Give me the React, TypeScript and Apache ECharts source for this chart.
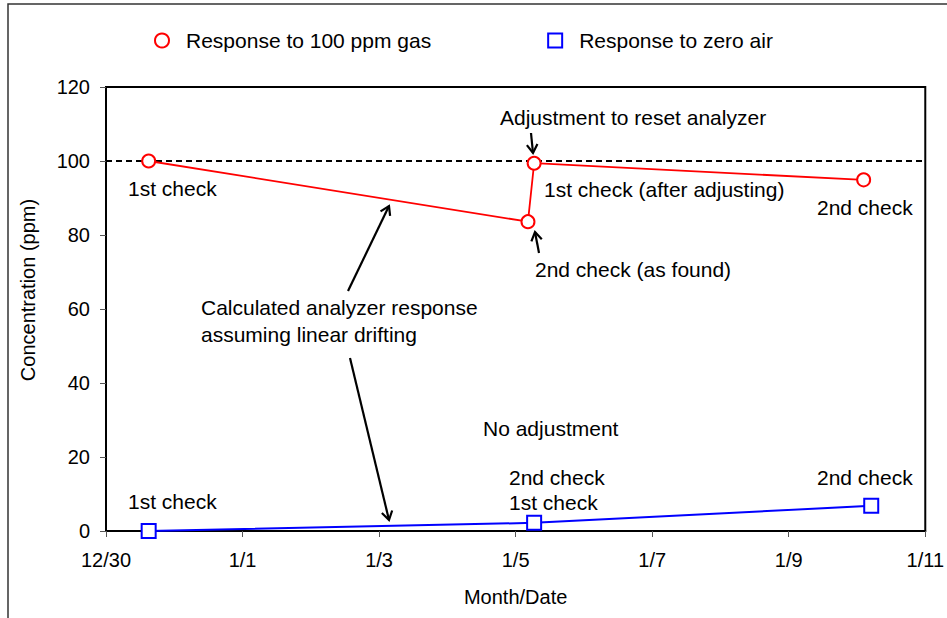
import React, { useEffect, useRef } from "react";
import * as echarts from "echarts";

// ---- data ----
const xTickLabels = ["12/30", "1/1", "1/3", "1/5", "1/7", "1/9", "1/11"];
const gasTimes = ["12/30 15:00", "1/5 04:20", "1/5 06:30", "1/10 02:20"];
const gasValues = [100, 83.6, 99.4, 94.9];
const zeroTimes = ["12/30 15:00", "1/5 06:30", "1/10 05:00"];
const zeroValues = [0, 2.2, 6.8];
const referenceLevel = 100;

const seriesNames = ["Response to 100 ppm gas", "Response to zero air"];

// days since 12/30 00:00
function toDays(s: string): number {
  const [md, hm] = s.split(" ");
  const [m, d] = md.split("/").map(Number);
  const [h, mi] = hm.split(":").map(Number);
  const dayIndex = m === 12 ? d - 30 : d + 1;
  return dayIndex + (h + mi / 60) / 24;
}

const FONT = "'Liberation Sans', Arial, sans-serif";

function arrow(x1: number, y1: number, x2: number, y2: number) {
  const ang = Math.atan2(y2 - y1, x2 - x1);
  const len = 10;
  const spread = (32 * Math.PI) / 180;
  const p1 = [x2 - len * Math.cos(ang - spread), y2 - len * Math.sin(ang - spread)];
  const p2 = [x2 - len * Math.cos(ang + spread), y2 - len * Math.sin(ang + spread)];
  return [
    { type: "line", shape: { x1, y1, x2, y2 }, style: { stroke: "#000", lineWidth: 2.2 }, z: 50 },
    { type: "polyline", shape: { points: [p1, [x2, y2], p2] }, style: { stroke: "#000", lineWidth: 2.2, fill: null }, z: 50 },
  ];
}

function label(text: string, x: number, y: number) {
  return {
    type: "text",
    x,
    y,
    z: 50,
    style: { text, fontFamily: FONT, fontSize: 21, fill: "#000", verticalAlign: "middle", align: "left" },
  };
}

export default function App() {
  const ref = useRef<HTMLDivElement>(null);
  useEffect(() => {
    if (!ref.current) return;
    const chart = echarts.init(ref.current, null, { renderer: "svg" });
    const gasData = gasTimes.map((t, i) => [toDays(t), gasValues[i]]);
    const zeroData = zeroTimes.map((t, i) => [toDays(t), zeroValues[i]]);
    chart.setOption({
      animation: false,
      backgroundColor: "#fff",
      textStyle: { fontFamily: FONT },
      grid: { left: 106, right: 20, top: 87, bottom: 87, show: true, borderColor: "#000", borderWidth: 2, containLabel: false },
      legend: {
        top: 25,
        left: 149,
        itemWidth: 14,
        itemHeight: 14,
        itemGap: 116,
        textStyle: { fontFamily: FONT, fontSize: 21, color: "#000", padding: [0, 0, 0, 12] },
        data: [
          { name: seriesNames[0], icon: "circle", itemStyle: { color: "#fff", borderColor: "#ff0000", borderWidth: 2 } },
          { name: seriesNames[1], icon: "rect", itemStyle: { color: "#fff", borderColor: "#0000ff", borderWidth: 2 } },
        ],
      },
      xAxis: {
        type: "value",
        min: 0,
        max: 12,
        interval: 2,
        name: "Month/Date",
        nameLocation: "middle",
        nameGap: 56,
        nameTextStyle: { fontFamily: FONT, fontSize: 20, color: "#000" },
        axisLine: { show: true, lineStyle: { color: "#000", width: 2 } },
        axisTick: { show: true, length: 6, lineStyle: { color: "#555", width: 1 } },
        axisLabel: {
          fontFamily: FONT,
          fontSize: 20,
          color: "#000",
          margin: 19,
          formatter: (v: number) => xTickLabels[Math.round(v / 2)] ?? "",
        },
        splitLine: { show: false },
      },
      yAxis: {
        type: "value",
        min: 0,
        max: 120,
        interval: 20,
        axisLine: { show: true, lineStyle: { color: "#000", width: 2 } },
        axisTick: { show: true, length: 6, lineStyle: { color: "#555", width: 1 } },
        axisLabel: { fontFamily: FONT, fontSize: 20, color: "#000", margin: 16 },
        splitLine: { show: false },
      },
      series: [
        {
          name: seriesNames[0],
          type: "line",
          data: gasData,
          symbol: "circle",
          symbolSize: 13,
          lineStyle: { color: "#ff0000", width: 1.8 },
          itemStyle: { color: "#fff", borderColor: "#ff0000", borderWidth: 2 },
          z: 10,
          markLine: {
            silent: true,
            symbol: "none",
            label: { show: false },
            lineStyle: { color: "#000", type: [6, 4], width: 2 },
            data: [{ yAxis: referenceLevel }],
            z: 5,
          },
        },
        {
          name: seriesNames[1],
          type: "line",
          data: zeroData,
          symbol: "rect",
          symbolSize: 14,
          lineStyle: { color: "#0000ff", width: 2 },
          itemStyle: { color: "#fff", borderColor: "#0000ff", borderWidth: 2 },
          z: 10,
        },
      ],
      graphic: [
        { type: "rect", shape: { x: 8, y: 4, width: 1000, height: 1000 }, style: { fill: null, stroke: "#333", lineWidth: 1.5 }, silent: true, z: -10 },
        {
          type: "text",
          x: 28,
          y: 290,
          rotation: Math.PI / 2,
          style: { text: "Concentration (ppm)", fontFamily: FONT, fontSize: 20, fill: "#000", align: "center", verticalAlign: "middle" },
        },
        label("1st check", 128, 188),
        label("Adjustment to reset analyzer", 500, 117),
        label("1st check (after adjusting)", 544, 189),
        label("2nd check (as found)", 535, 269),
        label("2nd check", 817, 207),
        label("1st check", 128, 501),
        label("2nd check", 509, 477),
        label("1st check", 509, 502),
        label("No adjustment", 483, 428),
        label("2nd check", 817, 477),
        label("Calculated analyzer response", 201, 307),
        label("assuming linear drifting", 201, 334),
        ...arrow(531, 133, 533, 153),
        ...arrow(539, 253, 535, 232),
        ...arrow(348, 291, 389, 206),
        ...arrow(350, 358, 389, 520),
      ],
    });
    return () => chart.dispose();
  }, []);
  return <div ref={ref} style={{ position: "fixed", left: 0, top: 0, width: 947, height: 618 }} />;
}
